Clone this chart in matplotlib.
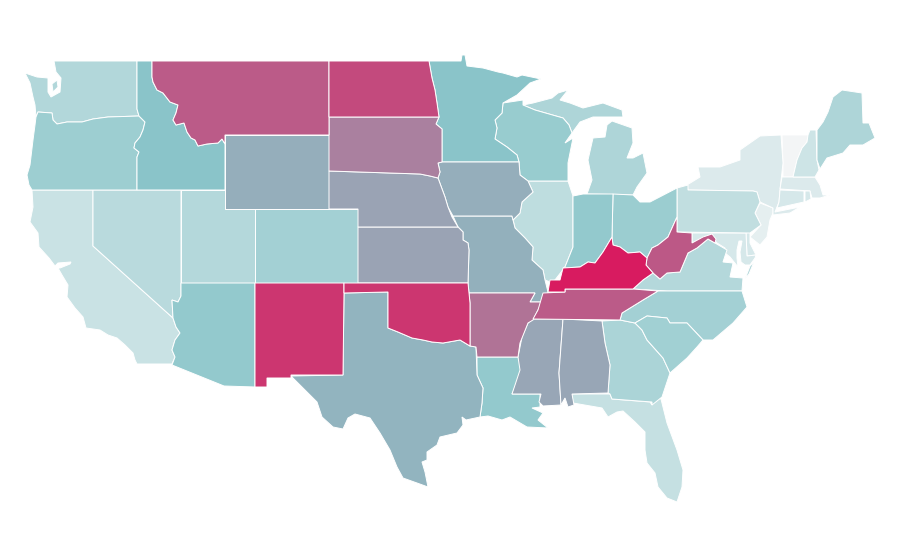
import matplotlib
matplotlib.use('Agg')
import matplotlib.pyplot as plt
from matplotlib.colors import LinearSegmentedColormap, Normalize
from matplotlib.patches import Polygon

# value per state
states = ['VT', 'NJ', 'NY', 'MA', 'CT', 'RI', 'DE', 'MD', 'NH', 'CA', 'FL', 'PA', 'IL', 'NV', 'UT', 'VA', 'WA', 'ME', 'MI', 'GA',
          'CO', 'NC', 'SC', 'OR', 'OH', 'WI', 'AZ', 'LA', 'IN', 'ID', 'MN', 'TX', 'MO', 'WY', 'IA', 'KS', 'NE', 'MS', 'AL', 'SD',
          'AR', 'MT', 'TN', 'WV', 'ND', 'NM', 'OK', 'KY']
values = [0, 7, 11, 11, 14, 14, 14, 14, 18, 20, 22, 24, 25, 28, 30, 30, 31, 33, 33, 34,
          38, 38, 39, 41, 42, 43, 46, 46, 46, 50, 50, 55, 56, 57, 57, 60, 60, 59, 59, 70,
          74, 81, 81, 82, 86, 92, 92, 100]

outlines = {
    'WA': [[(54, 61), (137, 61), (137, 109), (139, 116), (108, 117), (93, 119), (82, 122), (67, 122), (57, 124), (53, 120), (52, 113), (38, 112), (36, 117), (35, 105), (33, 97), (30, 83), (25, 73), (37, 77), (48, 78), (48, 92), (51, 97), (60, 92), (61, 78), (56, 72)],
           [(52, 84), (57, 80), (58, 87), (53, 92)]],
    'OR': [[(36, 117), (38, 112), (52, 113), (53, 120), (57, 124), (67, 122), (82, 122), (93, 119), (108, 117), (139, 116), (145, 122), (143, 130), (140, 137), (135, 143), (134, 148), (139, 152), (137, 157), (137, 190), (32, 190), (29, 185), (27, 175), (30, 165), (33, 140), (35, 125)]],
    'ID': [[(137, 61), (152, 61), (152, 77), (153, 82), (157, 90), (163, 93), (170, 102), (178, 105), (176, 113), (173, 120), (176, 125), (184, 123), (187, 132), (191, 138), (195, 140), (198, 146), (207, 144), (218, 143), (222, 139), (225, 144), (225, 190), (137, 190), (137, 157), (139, 152), (134, 148), (135, 143), (140, 137), (143, 130), (145, 122), (139, 116), (137, 109)]],
    'MT': [[(152, 61), (329, 61), (329, 135), (225, 135), (225, 144), (222, 139), (218, 143), (207, 144), (198, 146), (195, 140), (191, 138), (187, 132), (184, 123), (176, 125), (173, 120), (176, 113), (178, 105), (170, 102), (163, 93), (157, 90), (153, 82), (152, 77)]],
    'WY': [[(225, 135), (329, 135), (329, 209), (225, 209)]],
    'CO': [[(255, 209), (358, 209), (358, 283), (255, 283)]],
    'UT': [[(181, 190), (225, 190), (225, 209), (255, 209), (255, 283), (181, 283)]],
    'NV': [[(93, 190), (181, 190), (181, 296), (178, 302), (172, 300), (173, 318), (93, 246)]],
    'CA': [[(32, 190), (93, 190), (93, 246), (173, 318), (176, 327), (180, 333), (175, 340), (172, 350), (175, 357), (172, 364), (137, 364), (135, 360), (133, 353), (125, 345), (117, 338), (108, 335), (100, 330), (86, 328), (83, 317), (75, 308), (67, 297), (68, 285), (62, 275), (58, 268), (60, 268), (70, 264), (71, 262), (58, 263), (55, 266), (49, 258), (39, 247), (38, 233), (30, 222), (33, 207)]],
    'AZ': [[(181, 283), (255, 283), (255, 387), (224, 386), (172, 365), (175, 357), (172, 350), (175, 340), (180, 333), (176, 327), (173, 318), (172, 300), (178, 302), (181, 296)]],
    'NM': [[(255, 283), (344, 283), (344, 293), (343, 375), (291, 375), (291, 378), (267, 378), (267, 387), (255, 387)]],
    'TX': [[(344, 293), (388, 292), (388, 328), (398, 332), (412, 338), (423, 340), (432, 342), (443, 343), (460, 340), (470, 346), (476, 347), (477, 375), (483, 388), (482, 403), (480, 417), (466, 420), (462, 417), (463, 425), (457, 433), (440, 437), (437, 445), (427, 452), (427, 460), (422, 462), (425, 472), (428, 487), (417, 483), (403, 478), (397, 467), (390, 450), (380, 433), (370, 418), (355, 414), (348, 418), (343, 429), (333, 427), (322, 417), (317, 402), (302, 387), (291, 376), (343, 375)]],
    'OK': [[(344, 283), (468, 283), (469, 293), (470, 303), (470, 346), (460, 340), (443, 343), (432, 342), (423, 340), (412, 338), (398, 332), (388, 328), (388, 292), (344, 293)]],
    'KS': [[(358, 227), (458, 227), (463, 232), (463, 240), (468, 243), (469, 250), (468, 283), (358, 283)]],
    'NE': [[(329, 171), (420, 174), (430, 176), (438, 178), (445, 197), (448, 207), (452, 217), (458, 227), (358, 227), (358, 209), (329, 209)]],
    'SD': [[(329, 117), (439, 117), (436, 124), (442, 129), (442, 162), (438, 163), (440, 172), (438, 178), (430, 176), (420, 174), (329, 171)]],
    'ND': [[(329, 61), (429, 61), (432, 78), (435, 90), (437, 103), (439, 117), (329, 117)]],
    'MN': [[(429, 61), (461, 61), (462, 55), (465, 55), (467, 66), (483, 68), (498, 72), (503, 73), (517, 77), (522, 75), (541, 79), (530, 83), (517, 95), (503, 103), (502, 113), (495, 120), (497, 128), (495, 139), (507, 147), (517, 155), (519, 162), (442, 162), (442, 129), (436, 124), (439, 117), (437, 103), (435, 90), (432, 78)]],
    'WI': [[(503, 103), (523, 100), (523, 105), (535, 110), (563, 118), (569, 125), (572, 133), (565, 143), (573, 138), (568, 163), (568, 181), (528, 181), (520, 175), (519, 162), (517, 155), (507, 147), (495, 139), (497, 128), (495, 120), (502, 113)]],
    'MI': [[(523, 105), (533, 103), (552, 98), (558, 93), (568, 90), (560, 100), (570, 103), (583, 108), (603, 103), (622, 110), (623, 117), (593, 117), (580, 122), (572, 133), (569, 125), (563, 118), (535, 110)],
           [(612, 121), (632, 128), (633, 143), (627, 158), (633, 158), (643, 153), (647, 173), (637, 187), (633, 195), (587, 194), (592, 180), (588, 160), (593, 138), (605, 137), (607, 125)]],
    'IA': [[(442, 162), (519, 162), (520, 175), (528, 181), (533, 192), (522, 202), (520, 213), (513, 220), (512, 216), (453, 216), (448, 207), (445, 197), (438, 178), (440, 172), (438, 163)]],
    'IL': [[(528, 181), (568, 181), (573, 196), (573, 247), (565, 267), (555, 280), (550, 282), (545, 280), (543, 270), (532, 260), (533, 247), (525, 238), (515, 228), (513, 220), (520, 213), (522, 202), (533, 192)]],
    'IN': [[(573, 196), (583, 194), (613, 194), (612, 237), (603, 252), (595, 263), (588, 262), (580, 267), (563, 268), (565, 267), (573, 247)]],
    'OH': [[(613, 194), (633, 195), (640, 202), (650, 202), (677, 188), (677, 217), (668, 237), (658, 245), (652, 248), (647, 258), (640, 252), (628, 253), (620, 247), (613, 245), (612, 237)]],
    'KY': [[(613, 245), (620, 247), (628, 253), (640, 252), (647, 258), (646, 265), (653, 273), (643, 280), (633, 289), (565, 289), (565, 292), (548, 292), (550, 280), (560, 280), (563, 268), (580, 267), (588, 262), (595, 263), (603, 252), (612, 237)]],
    'WV': [[(647, 258), (652, 248), (658, 245), (668, 237), (677, 217), (677, 232), (692, 233), (692, 243), (703, 237), (712, 234), (716, 239), (715, 243), (708, 239), (697, 248), (688, 253), (680, 272), (667, 273), (660, 279), (653, 273), (646, 265)]],
    'VA': [[(653, 273), (660, 279), (667, 273), (680, 272), (688, 253), (697, 248), (708, 239), (715, 243), (727, 250), (723, 262), (733, 263), (730, 277), (743, 278), (742, 291), (667, 291), (633, 289), (643, 280)],
           [(750, 266), (754, 262), (749, 274), (745, 279)]],
    'NC': [[(658, 291), (742, 291), (747, 307), (733, 323), (713, 340), (703, 340), (687, 323), (670, 323), (667, 318), (647, 316), (635, 323), (620, 320), (622, 313), (643, 300)]],
    'TN': [[(543, 293), (565, 292), (565, 289), (633, 289), (658, 291), (643, 300), (622, 313), (620, 320), (533, 319), (538, 310)]],
    'SC': [[(635, 323), (647, 316), (667, 318), (670, 323), (687, 323), (703, 340), (697, 347), (687, 358), (670, 373), (663, 358), (647, 340), (642, 330)]],
    'GA': [[(602, 321), (620, 320), (635, 323), (642, 330), (647, 340), (663, 358), (670, 373), (662, 397), (652, 405), (652, 402), (612, 399), (610, 394), (608, 393), (610, 365), (605, 343)]],
    'AL': [[(563, 319), (602, 321), (605, 343), (610, 365), (608, 393), (572, 394), (574, 405), (568, 407), (565, 398), (561, 405), (559, 373)]],
    'MS': [[(533, 319), (563, 319), (559, 373), (561, 405), (543, 406), (539, 402), (541, 394), (512, 394), (520, 370), (518, 357), (522, 337), (528, 323)]],
    'LA': [[(477, 357), (518, 357), (523, 368), (512, 394), (540, 394), (540, 407), (532, 408), (543, 413), (538, 420), (548, 428), (527, 427), (510, 417), (502, 420), (488, 416), (480, 417), (482, 403), (483, 388), (477, 375)]],
    'AR': [[(469, 293), (535, 293), (530, 302), (542, 302), (533, 320), (528, 323), (520, 343), (518, 357), (477, 357), (476, 347), (470, 346), (470, 303)]],
    'MO': [[(453, 216), (512, 216), (513, 220), (515, 228), (525, 238), (533, 247), (532, 260), (543, 270), (545, 280), (548, 292), (542, 302), (530, 302), (535, 293), (469, 293), (468, 283), (469, 250), (468, 243), (463, 240), (463, 232), (458, 227)]],
    'FL': [[(572, 394), (610, 394), (612, 399), (650, 402), (652, 405), (655, 398), (661, 399), (667, 423), (677, 450), (683, 470), (682, 487), (677, 502), (667, 498), (658, 487), (655, 473), (647, 463), (645, 450), (645, 432), (635, 422), (623, 411), (617, 412), (608, 417), (602, 408), (573, 403)]],
    'NY': [[(687, 185), (700, 177), (698, 167), (720, 167), (740, 160), (740, 150), (760, 136), (781, 135), (783, 163), (780, 190), (779, 202), (775, 212), (800, 207), (790, 213), (773, 215), (773, 208), (760, 202), (757, 192), (753, 191), (688, 190)]],
    'VT': [[(782, 135), (808, 135), (807, 142), (802, 148), (797, 160), (793, 177), (783, 177), (783, 163)]],
    'NH': [[(810, 130), (816, 130), (817, 160), (819, 170), (815, 177), (793, 177), (797, 160), (802, 148), (807, 142), (808, 135)]],
    'ME': [[(817, 130), (823, 122), (828, 112), (833, 97), (842, 90), (862, 93), (863, 123), (869, 123), (875, 138), (863, 145), (850, 145), (843, 153), (827, 158), (820, 169), (817, 160)]],
    'MA': [[(782, 177), (815, 177), (820, 185), (823, 195), (830, 195), (820, 198), (812, 198), (810, 191), (780, 189)]],
    'CT': [[(780, 190), (804, 191), (804, 202), (777, 208), (779, 202)]],
    'RI': [[(805, 191), (810, 191), (811, 199), (805, 202)]],
    'PA': [[(677, 188), (688, 185), (688, 190), (753, 191), (757, 192), (760, 202), (755, 213), (761, 225), (750, 233), (677, 232)]],
    'NJ': [[(760, 203), (773, 208), (773, 213), (770, 220), (767, 237), (760, 245), (750, 237), (761, 225), (755, 213)]],
    'DE': [[(746, 233), (750, 232), (750, 243), (756, 255), (747, 256)]],
    'MD': [[(692, 233), (746, 233), (747, 256), (756, 255), (755, 258), (750, 265), (745, 265), (741, 262), (740, 252), (742, 241), (739, 241), (737, 250), (737, 258), (738, 267), (730, 257), (725, 253), (725, 248), (717, 243), (710, 235), (705, 237), (692, 243)]],
}

cmap = LinearSegmentedColormap.from_list('rate', ['#f3f5f6', '#8ac5c9', '#d81b60'])
norm = Normalize(0, 100)

fig = plt.figure(figsize=(9, 5.6), dpi=100)
ax = fig.add_axes([0, 0, 1, 1])
for name, value in zip(states, values):
    for part in outlines[name]:
        ax.add_patch(Polygon(part, closed=True, facecolor=cmap(norm(value)), edgecolor='white', linewidth=0.7))
ax.set_xlim(0, 900)
ax.set_ylim(560, 0)
ax.axis('off')
fig.savefig('out.png', dpi=100, facecolor='white')
